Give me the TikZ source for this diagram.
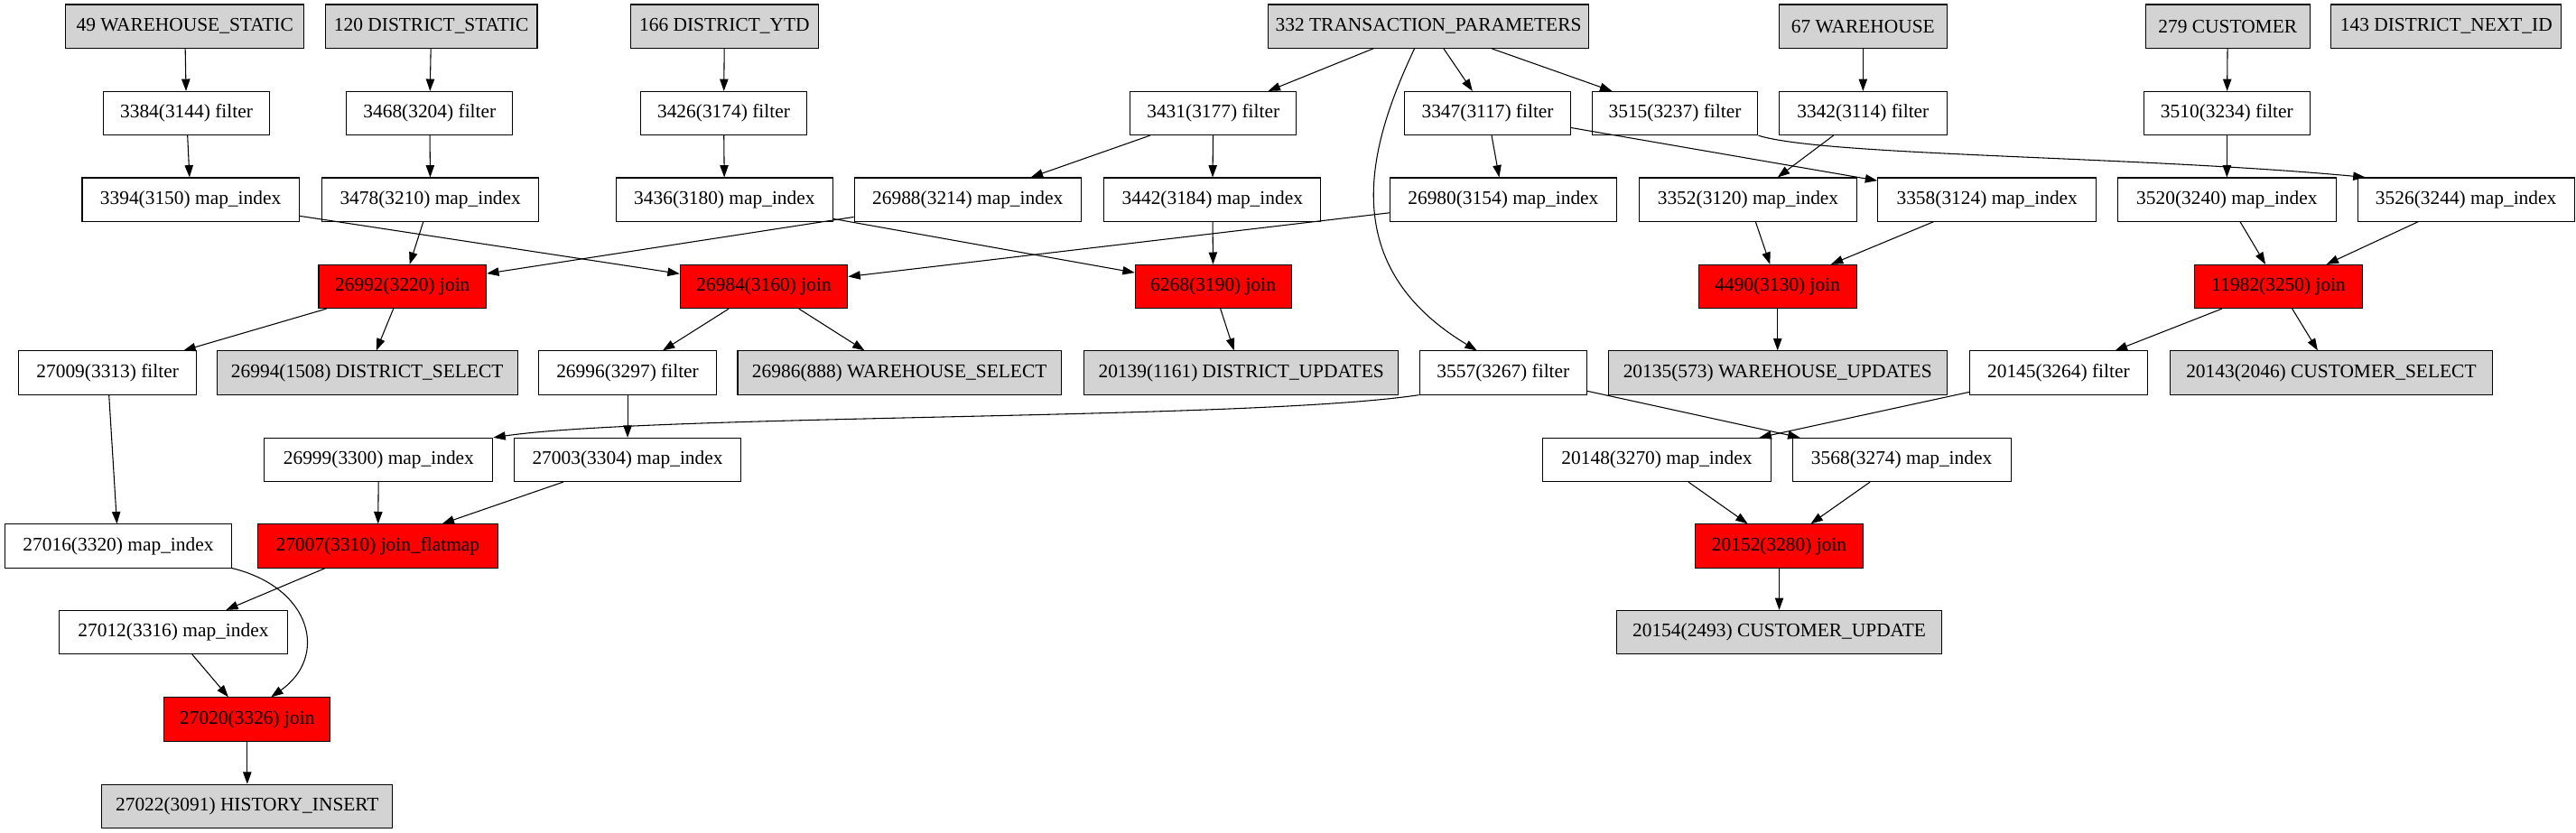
\documentclass[tikz,border=0pt]{standalone}
\usepackage{fontspec}
\setmainfont{Liberation Serif}
\usetikzlibrary{arrows.meta,calc}
\begin{document}
\begin{tikzpicture}[x=1.36pt, y=-1.36pt, >={Triangle[length=10pt,width=7pt]},
		font=\fontsize{16}{19}\selectfont, line width=0.8pt,
		op/.style={draw, minimum height=36pt, minimum width=#1*1.36pt, inner sep=0pt},
		src/.style={op=#1, fill=nodegray},
		jn/.style={op=#1, fill=red}]
			\definecolor{nodegray}{RGB}{211,211,211}
			\useasboundingbox (0,0) rectangle (1568,507);
			% sources
			\node[src=145] (n49) at (112.5,16) {49 WAREHOUSE\_STATIC};
			\node[src=129] (n120) at (262.5,16) {120 DISTRICT\_STATIC};
			\node[src=114] (n166) at (441,16) {166 DISTRICT\_YTD};
			\node[src=195] (n332) at (869.5,16) {332 TRANSACTION\_PARAMETERS};
			\node[src=102] (n67) at (1134,16) {67 WAREHOUSE};
			\node[src=100] (n279) at (1356,16) {279 CUSTOMER};
			\node[src=140] (n143) at (1489,16) {143 DISTRICT\_NEXT\_ID};
			% filters
			\node[op=101] (n3384) at (113.5,69) {3384(3144) filter};
			\node[op=101] (n3468) at (261.5,69) {3468(3204) filter};
			\node[op=101] (n3426) at (440.5,69) {3426(3174) filter};
			\node[op=101] (n3431) at (738.5,69) {3431(3177) filter};
			\node[op=101] (n3347) at (905.5,69) {3347(3117) filter};
			\node[op=101] (n3515) at (1019.5,69) {3515(3237) filter};
			\node[op=102] (n3342) at (1134,69) {3342(3114) filter};
			\node[op=101] (n3510) at (1355.5,69) {3510(3234) filter};
			% map_index
			\node[op=132] (n3394) at (116,121.5) {3394(3150) map\_index};
			\node[op=132] (n3478) at (262,121.5) {3478(3210) map\_index};
			\node[op=132] (n3436) at (441,121.5) {3436(3180) map\_index};
			\node[op=138] (n26988) at (589,121.5) {26988(3214) map\_index};
			\node[op=132] (n3442) at (738,121.5) {3442(3184) map\_index};
			\node[op=138] (n26980) at (915,121.5) {26980(3154) map\_index};
			\node[op=132] (n3352) at (1064,121.5) {3352(3120) map\_index};
			\node[op=133] (n3358) at (1209.5,121.5) {3358(3124) map\_index};
			\node[op=133] (n3520) at (1355.5,121.5) {3520(3240) map\_index};
			\node[op=132] (n3526) at (1501,121.5) {3526(3244) map\_index};
			% joins
			\node[jn=102] (n26992) at (245,174.5) {26992(3220) join};
			\node[jn=102] (n26984) at (465,174.5) {26984(3160) join};
			\node[jn=95] (n6268) at (738.5,174.5) {6268(3190) join};
			\node[jn=96] (n4490) at (1082,174.5) {4490(3130) join};
			\node[jn=102] (n11982) at (1387,174.5) {11982(3250) join};
			% outputs of the joins
			\node[op=108] (n27009) at (65.5,227) {27009(3313) filter};
			\node[src=183] (n26994) at (223.5,227) {26994(1508) DISTRICT\_SELECT};
			\node[op=108] (n26996) at (382,227) {26996(3297) filter};
			\node[src=197] (n26986) at (547.5,227) {26986(888) WAREHOUSE\_SELECT};
			\node[src=191] (n20139) at (755.5,227) {20139(1161) DISTRICT\_UPDATES};
			\node[op=102] (n3557) at (915,227) {3557(3267) filter};
			\node[src=206] (n20135) at (1082,227) {20135(573) WAREHOUSE\_UPDATES};
			\node[op=108] (n20145) at (1253,227) {20145(3264) filter};
			\node[src=196] (n20143) at (1419,227) {20143(2046) CUSTOMER\_SELECT};
			\node[op=139] (n26999) at (230.5,280) {26999(3300) map\_index};
			\node[op=138] (n27003) at (382,280) {27003(3304) map\_index};
			\node[op=139] (n20148) at (1008.5,280) {20148(3270) map\_index};
			\node[op=133] (n3568) at (1157.5,280) {3568(3274) map\_index};
			\node[op=138] (n27016) at (72,332.5) {27016(3320) map\_index};
			\node[jn=146] (n27007) at (230,332.5) {27007(3310) join\_flatmap};
			\node[jn=102] (n20152) at (1083,332.5) {20152(3280) join};
			\node[op=139] (n27012) at (105.5,385) {27012(3316) map\_index};
			\node[src=198] (n20154) at (1083,385) {20154(2493) CUSTOMER\_UPDATE};
			\node[jn=101] (n27020) at (150.5,438) {27020(3326) join};
			\node[src=177] (n27022) at (150.5,491) {27022(3091) HISTORY\_INSERT};
			% edges
			\foreach \a/\b in {49/3384, 120/3468, 166/3426, 332/3431, 332/3347, 332/3515, 67/3342, 279/3510,
					3384/3394, 3468/3478, 3426/3436, 3431/26988, 3431/3442, 3347/26980, 3347/3358, 3342/3352, 3510/3520,
					3394/26984, 3478/26992, 3436/6268, 26988/26992, 3442/6268, 26980/26984, 3352/4490, 3358/4490,
					3520/11982, 3526/11982, 26992/27009, 26992/26994, 26984/26996, 26984/26986, 6268/20139,
					4490/20135, 11982/20145, 11982/20143, 27009/27016, 26996/27003, 3557/3568, 20145/20148,
					26999/27007, 27003/27007, 27007/27012, 27012/27020, 20148/20152, 3568/20152, 20152/20154, 27020/27022}
				\draw[->] (n\a) -- (n\b);
			\draw[->] ($(n332.south)+(-8.5,0)$) .. controls (835,85) and (810,160) .. ($(n3557.north)+(-16,0)$);
			\draw[->] (n3515.south east) .. controls (1110,95) and (1300,95) .. ($(n3526.north west)+(5,0)$);
			\draw[->] (n3557.south west) .. controls (760,256) and (400,252) .. (n26999.north east);
			\draw[->] (n27016.south east) .. controls (190,358) and (200,400) .. ($(n27020.north)+(14.5,0)$);
		\end{tikzpicture}
\end{document}
